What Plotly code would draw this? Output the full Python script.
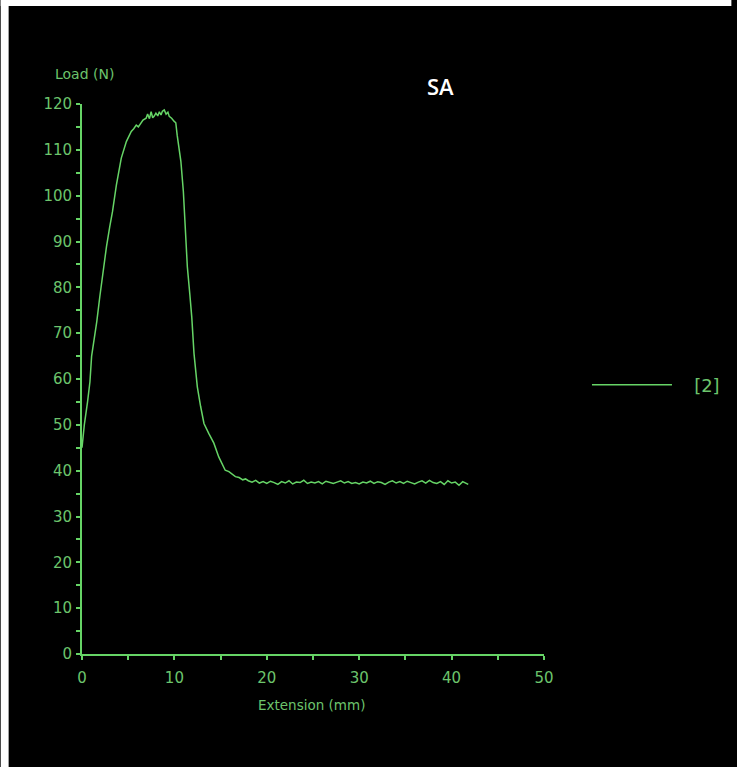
import plotly.graph_objects as go

# ---- data ----
extension_mm = [
    0.0, 0.25, 0.6, 0.86, 1.04, 1.4, 1.6, 1.93, 2.29, 2.65, 3.0, 3.3, 3.72, 4.25,
    4.8, 5.33, 5.6, 5.87, 6.1, 6.4, 6.6, 6.94, 7.1, 7.3, 7.48, 7.65, 7.8, 8.0,
    8.2, 8.37, 8.55, 8.7, 8.9, 9.1, 9.3, 9.44, 9.7, 9.98, 10.15, 10.3, 10.5,
    10.7, 10.97, 11.23, 11.4, 11.66, 11.88, 12.12, 12.48, 12.84, 13.2, 13.73,
    14.27, 14.8, 15.2, 15.5, 15.9, 16.3, 16.6, 17.0, 17.4, 17.7,
    18.0, 18.4, 18.8, 19.2, 19.6, 20.0, 20.4, 20.8, 21.2, 21.6, 22.0, 22.4,
    22.8, 23.2, 23.6, 24.0, 24.4, 24.8, 25.2, 25.6, 26.0, 26.4, 26.8, 27.2,
    27.6, 28.0, 28.4, 28.8, 29.2, 29.6, 30.0, 30.4, 30.8, 31.2, 31.6, 32.0,
    32.4, 32.8, 33.2, 33.6, 34.0, 34.4, 34.8, 35.2, 35.6, 36.0, 36.4, 36.8,
    37.2, 37.6, 38.0, 38.4, 38.8, 39.2, 39.6, 40.0, 40.4, 40.8, 41.2, 41.6, 41.8,
]
load_n = [
    45.0, 50.0, 55.0, 59.4, 65.0, 69.5, 72.5, 78.0, 83.8, 88.9, 93.2, 96.5, 102.3,
    108.2, 111.8, 114.0, 114.6, 115.4, 115.0, 116.1, 116.5, 116.9, 117.8, 116.8,
    118.3, 117.0, 117.3, 118.0, 117.4, 118.3, 117.6, 118.4, 118.7, 117.8, 118.2,
    117.3, 116.9, 116.2, 115.9, 113.2, 110.5, 107.5, 100.9, 91.8, 84.5, 78.7,
    73.5, 65.6, 58.3, 54.0, 50.3, 48.1, 46.0, 43.0, 41.5, 40.1, 39.8, 39.2, 38.7,
    38.5, 38.0, 38.2,
    37.8, 37.5, 37.9, 37.3, 37.6, 37.2, 37.7, 37.4, 37.0, 37.6, 37.3, 37.8,
    37.1, 37.5, 37.4, 37.9, 37.2, 37.5, 37.3, 37.6, 37.1, 37.7, 37.4, 37.2,
    37.5, 37.8, 37.3, 37.6, 37.2, 37.4, 37.1, 37.5, 37.3, 37.7, 37.2, 37.6,
    37.4, 37.0, 37.5, 37.8, 37.3, 37.6, 37.2, 37.7, 37.4, 37.1, 37.5, 37.8,
    37.3, 37.9, 37.4, 37.2, 37.6, 37.0, 37.8, 37.3, 37.5, 36.8, 37.6, 37.2, 37.0,
]
series_name = "\u00a0\u00a0\u00a0[2]"
x_ticks = [0, 10, 20, 30, 40, 50]
y_ticks = [0, 10, 20, 30, 40, 50, 60, 70, 80, 90, 100, 110, 120]

GREEN = "#66d466"
TEXT = "#6cc46c"
FONT = "DejaVu Sans"

fig = go.Figure()
fig.add_trace(go.Scatter(
    x=extension_mm, y=load_n, mode="lines", name=series_name,
    line=dict(color=GREEN, width=1.5), showlegend=True,
))

W, H = 737, 767
L, T, PW, PH = 82, 104, 466, 550

axis_common = dict(showgrid=False, zeroline=False)
fig.update_layout(
    width=W, height=H,
    margin=dict(l=L, r=W - L - PW, t=T, b=H - T - PH),
    paper_bgcolor="black", plot_bgcolor="black",
    xaxis=dict(range=[0, 50], tickvals=x_ticks, ticks="outside", ticklen=4,
               tickcolor=GREEN, tickwidth=1.5, showline=True, linecolor=GREEN,
               linewidth=1.8, tickfont=dict(family=FONT, size=15, color=TEXT),
               ticklabelstandoff=5,
               minor=dict(dtick=5, ticks="outside", ticklen=4, tickcolor=GREEN,
                          tickwidth=1.5, showgrid=False),
               **axis_common),
    xaxis2=dict(range=[0, 50], overlaying="x", anchor="y", side="bottom",
                dtick=5, tick0=0, ticks="inside", ticklen=4, tickcolor=GREEN,
                tickwidth=1.5, showticklabels=False, showline=False, **axis_common),
    yaxis=dict(range=[0, 120], tickvals=y_ticks, ticks="outside", ticklen=4,
               tickcolor=GREEN, tickwidth=1.5, showline=True, linecolor=GREEN,
               linewidth=1.8, tickfont=dict(family=FONT, size=15, color=TEXT),
               ticklabelstandoff=1,
               minor=dict(dtick=5, ticks="outside", ticklen=4, tickcolor=GREEN,
                          tickwidth=1.5, showgrid=False),
               **axis_common),
    yaxis2=dict(range=[0, 120], overlaying="y", anchor="x", side="left",
                dtick=5, tick0=0, ticks="inside", ticklen=4, tickcolor=GREEN,
                tickwidth=1.5, showticklabels=False, showline=False, **axis_common),
    legend=dict(x=1.093, y=0.489, xanchor="left", yanchor="middle",
                bgcolor="rgba(0,0,0,0)", itemwidth=80,
                font=dict(family=FONT, size=18, color=TEXT)),
    annotations=[
        dict(text="Extension (mm)", x=0.496, y=-0.0927, xref="paper", yref="paper",
             xanchor="center", yanchor="middle", showarrow=False,
             font=dict(family=FONT, size=13.5, color=TEXT)),
        dict(text="Load (N)", x=0.0064, y=1.0545, xref="paper", yref="paper",
             xanchor="center", yanchor="middle", showarrow=False,
             font=dict(family=FONT, size=14, color=TEXT)),
        dict(text="SA", x=0.775, y=1.0327, xref="paper", yref="paper",
             xanchor="center", yanchor="middle", showarrow=False,
             font=dict(family="Open Sans", size=22, color="white", weight=600)),
    ],
    shapes=[
        # white page border on the left and top edges of the picture
        dict(type="rect", xref="paper", yref="paper", x0=-L / PW, x1=(8 - L) / PW,
             y0=-(H - T - PH) / PH, y1=T / PH + 1, fillcolor="white",
             line=dict(width=0), layer="above"),
        dict(type="rect", xref="paper", yref="paper", x0=-L / PW, x1=(W - L) / PW,
             y0=1 + (T - 6) / PH, y1=1 + T / PH, fillcolor="white",
             line=dict(width=0), layer="above"),
    ],
)
fig.write_html(
    "out.html",
    config={"displayModeBar": False},
    post_script="document.body.style.margin='0';document.body.style.overflow='hidden';",
)
